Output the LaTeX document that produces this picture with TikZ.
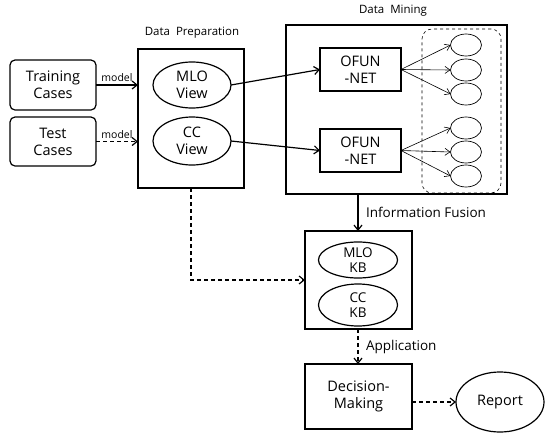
\documentclass[tikz,border=0pt]{standalone}
\usepackage{fontspec}
\setmainfont{Open Sans}
\usetikzlibrary{arrows.meta,shapes.geometric}
\begin{document}
\begin{tikzpicture}[x=1pt,y=-1pt,
  every node/.style={inner sep=0pt,outer sep=0pt},
  conn/.style={line width=1.2pt,-{Straight Barb[length=5pt,width=8pt]}},
  dconn/.style={conn,dash pattern=on 4pt off 3pt},
  thin/.style={line width=0.6pt,-{Straight Barb[length=5pt,width=7pt]}},
  box/.style={draw,line width=1.2pt,align=center,font=\fontsize{14.5}{17}\selectfont},
  ell/.style={draw,ellipse,line width=1.2pt,align=center,font=\fontsize{14.5}{17}\selectfont},
  small/.style={draw,ellipse,line width=0.7pt,minimum width=31pt,minimum height=22pt},
  lbl/.style={font=\fontsize{11.5}{14}\selectfont},
  blbl/.style={font=\fontsize{13.5}{16}\selectfont},
  mlbl/.style={font=\fontsize{10.5}{12}\selectfont}
]
\useasboundingbox (0,0) rectangle (547,437);
% left inputs
\node[box,rounded corners=5pt,minimum width=86pt,minimum height=50pt] (train) at (53,85) {Training\\Cases};
\node[box,rounded corners=5pt,minimum width=86pt,minimum height=49pt] (test) at (53,141.5) {Test\\Cases};
% data preparation
\node[draw,line width=1.2pt,minimum width=106pt,minimum height=139pt] (prep) at (191,118.5) {};
\node[lbl] (preplbl) at (192,33) {Data\ \ Preparation};
\node[ell,minimum width=78pt,minimum height=46pt] (mlo) at (192,85) {MLO\\View};
\node[ell,minimum width=78pt,minimum height=48pt] (cc) at (192,141) {CC\\View};
\coordinate (trainin) at (prep.west |- train.east);
\coordinate (testin) at (prep.west |- test.east);
\draw[conn] (train.east) -- node[mlbl,above=3pt] (m1) {model} (trainin);
\draw[dconn] (test.east) -- node[mlbl,above=3pt] (m2) {model} (testin);
% data mining
\node[draw,line width=1.2pt,minimum width=221pt,minimum height=169pt] (mine) at (396.5,109.5) {};
\node[lbl] (minelbl) at (393,11) {Data\ \ Mining};
\node[draw,dashed,rounded corners=10pt,line width=0.6pt,minimum width=79pt,minimum height=164pt] (grp) at (461.5,111) {};
\node[box,minimum width=81pt,minimum height=43pt] (of1) at (360.5,69.5) {OFUN\\-NET};
\node[box,minimum width=81pt,minimum height=43pt] (of2) at (360.5,150.5) {OFUN\\-NET};
\foreach \i/\y in {1/45,2/70,3/94,4/128,5/152,6/176}{
  \node[small] (s\i) at (466,\y) {};
}
\foreach \i in {1,2,3}{\draw[thin] (of1.east) -- (s\i.west);}
\foreach \i in {4,5,6}{\draw[thin] (of2.east) -- (s\i.west);}
\draw[conn] (mlo.east) -- (of1.west);
\draw[conn] (cc.east) -- (of2.west);
% knowledge base
\node[draw,line width=1.2pt,minimum width=107pt,minimum height=98pt] (kb) at (358.5,280) {};
\node[ell,minimum width=79pt,minimum height=36pt,font=\fontsize{13.5}{15}\selectfont] (mlokb) at (358,260) {MLO\\KB};
\node[ell,minimum width=79pt,minimum height=42pt,font=\fontsize{13.5}{15}\selectfont] (cckb) at (358,305) {CC\\KB};
\coordinate (minebot) at (358,194);
\draw[conn] (minebot) -- node[blbl,right=8pt] (fus) {Information Fusion} (kb.north -| minebot);
\coordinate (bend) at (191,280);
\draw[dconn] (prep.south -| bend) -- (bend) -- (kb.west);
% decision
\node[box,minimum width=107pt,minimum height=65pt] (dec) at (358.5,396.5) {Decision-\\Making};
\draw[dconn] (kb.south -| minebot) -- node[blbl,right=8pt] (app) {Application} (dec.north -| minebot);
\node[ell,minimum width=88pt,minimum height=60pt] (rep) at (500,402) {Report};
\draw[dconn] (dec.east |- rep.west) -- (rep.west);
\end{tikzpicture}
\end{document}
